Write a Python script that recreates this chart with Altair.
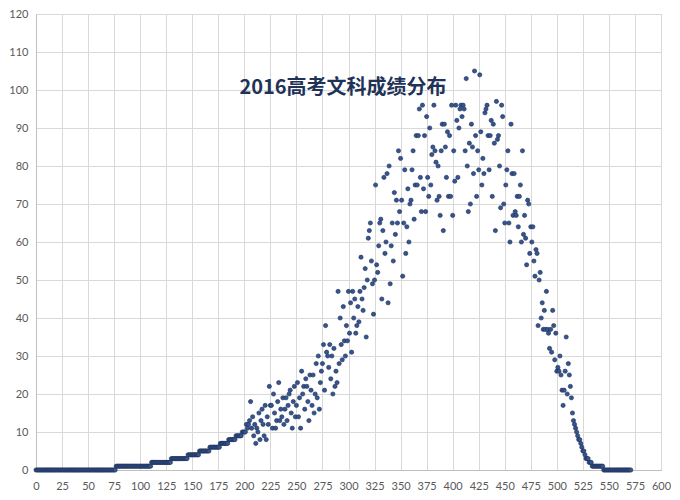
import altair as alt
import pandas as pd

# Count of candidates per score (2016 liberal-arts exam)
low_counts = [0]*77 + [1]*34 + [2]*19 + [3]*16 + [4]*11 + [5]*10 + [6]*10 + [7]*8 + [8]*7 + [9]*6 + [10]*3   # scores 0-200

mid_counts = [
    10, 12, 11, 12, 13, 18, 11, 14, 9, 12,      # 201-210
    7, 11, 10, 15, 8, 13, 16, 12, 9, 17,        # 211-220
    8, 14, 12, 22, 17, 17, 11, 20, 15, 11,      # 221-230
    13, 18, 23, 13, 16, 14, 19, 12, 16, 19,     # 231-240
    13, 17, 20, 21, 15, 11, 18, 22, 14, 17,     # 241-250
    23, 14, 19, 11, 26, 20, 22, 16, 24, 22,     # 251-260
    18, 13, 25, 21, 17, 25, 15, 20, 28, 19,     # 261-270
    30, 16, 23, 26, 28, 33, 21, 38, 31, 30,     # 271-280
    27, 33, 24, 30, 20, 32, 22, 26, 23, 47,     # 281-290
    28, 40, 33, 29, 43, 34, 30, 38, 34, 47,     # 291-300
    36, 44, 31, 47, 40, 45, 36, 38, 43, 39,     # 301-310
    47, 56, 45, 42, 48, 53, 35, 50, 61, 63,     # 311-320
    65, 55, 49, 41, 50, 75, 54, 52, 59, 65,     # 321-330
    66, 45, 63, 77, 57, 60, 78, 44, 80, 49,     # 331-340
    59, 65, 55, 73, 62, 71, 65, 84, 68, 82,     # 341-350
    71, 51, 65, 79, 57, 64, 74, 60, 70, 71,     # 351-360
    79, 84, 66, 75, 88, 75, 88, 95, 77, 68,     # 361-370
    96, 74, 88, 68, 93, 77, 72, 90, 75, 83,     # 371-380
    85, 96, 84, 81, 71, 80, 72, 67, 84, 91,     # 381-390
    63, 91, 85, 77, 89, 72, 88, 72, 96, 67,     # 391-400
    84, 76, 96, 92, 77, 90, 95, 96, 93, 96,     # 401-410
    95, 84, 103, 80, 68, 86, 70, 91, 85, 78,    # 411-420
    105, 88, 72, 84, 79, 104, 89, 75, 82, 78,   # 421-430
    94, 95, 96, 88, 79, 88, 92, 72, 91, 86,     # 431-440
    63, 97, 87, 88, 80, 69, 96, 93, 70, 65,     # 441-450
    75, 79, 84, 65, 60, 91, 78, 67, 78, 68,     # 451-460
    67, 72, 64, 72, 75, 60, 84, 62, 67, 61,     # 461-470
    54, 71, 70, 57, 64, 60, 64, 55, 51, 58,     # 471-480
    57, 38, 50, 52, 40, 44, 37, 42, 37, 47,     # 481-490
    37, 36, 32, 37, 31, 42, 38, 29, 36, 26,     # 491-500
    27, 26, 30, 25, 21, 17, 21, 26, 35, 20,     # 501-510
    28, 25, 22, 19, 15, 13, 12, 11, 10, 9,      # 511-520
    8, 8, 7, 6, 5, 5, 4, 3, 3, 3,               # 521-530
    2, 2, 2, 1, 1, 1, 1, 1, 1, 1,               # 531-540
    1, 1, 1, 1,                                 # 541-544
]

high_counts = [0]*27   # scores 545-571

counts = low_counts + mid_counts + high_counts
scores = list(range(len(counts)))

x_ticks = list(range(0, 601, 25))
y_ticks = list(range(0, 121, 10))
title_text = "2016高考文科成绩分布"

df = pd.DataFrame({"score": scores, "count": counts})

points = alt.Chart(df).mark_circle(
    size=18, color="#34558F", opacity=1, stroke="#1E2F55", strokeWidth=0.6
).encode(
    x=alt.X("score:Q",
            scale=alt.Scale(domain=[0, 600], nice=False),
            axis=alt.Axis(values=x_ticks, title=None, labelPadding=10,
                          labelFlush=False)),
    y=alt.Y("count:Q",
            scale=alt.Scale(domain=[0, 120], nice=False),
            axis=alt.Axis(values=y_ticks, title=None, labelPadding=8,
                          labelFlush=False)),
)

title = alt.Chart(pd.DataFrame({"t": [title_text]})).mark_text(
    font="Noto Sans CJK SC", fontSize=20, fontWeight="bold",
    color="#1F3358", align="center", baseline="middle"
).encode(
    text="t:N",
    x=alt.value(307),
    y=alt.value(74),
)

chart = alt.layer(points, title).properties(
    width=625,
    height=456,
    autosize=alt.AutoSizeParams(type="none"),
    padding={"left": 28, "top": 6, "right": 10, "bottom": 30},
    background="white",
).configure_axis(
    grid=True,
    gridColor="#D9D9D9",
    gridWidth=1,
    domainColor="#BFBFBF",
    ticks=False,
    labelFont="Lato",
    labelFontSize=11,
    labelColor="#595959",
).configure_view(
    stroke="#D9D9D9"
)

chart.save("out.html", embed_options={"renderer": "svg", "actions": False})
